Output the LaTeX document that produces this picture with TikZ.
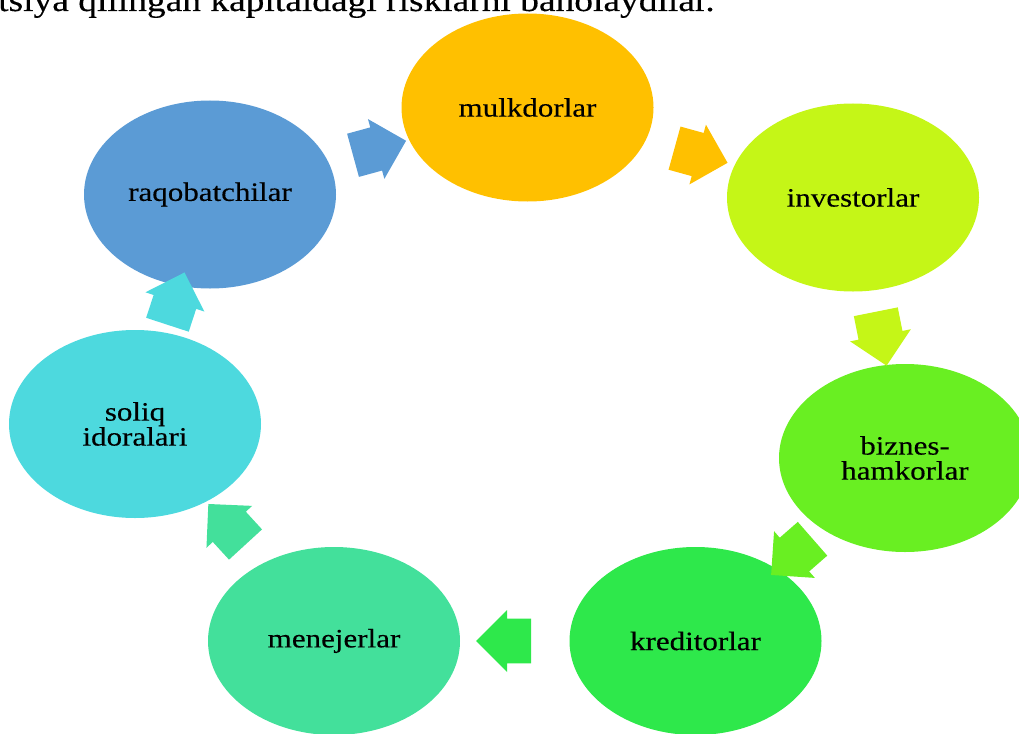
\documentclass[tikz,border=0pt]{standalone}
\usepackage{fontspec}
\setmainfont{Liberation Serif}[FakeStretch=1.17, FakeBold=0.3]
\usetikzlibrary{shapes.geometric,shapes.arrows}

\begin{document}
\begin{tikzpicture}[x=1pt, y=-1pt,
  ring/.style={ellipse, fill=#1, minimum width=252pt, minimum height=188pt,
    inner sep=0pt, align=center, font=\fontsize{26.5}{25}\selectfont},
  turn/.style={single arrow, fill=#1, sloped, allow upside down, midway,
    minimum height=55pt, minimum width=62pt, inner xsep=0pt, inner ysep=18pt,
    single arrow head extend=7pt}]
\useasboundingbox (0,0) rectangle (1019,733);
\clip (0,0) rectangle (1019,733);
\definecolor{colRaq}{HTML}{5B9BD5}
\definecolor{colMulk}{HTML}{FFC000}
\definecolor{colInv}{HTML}{C5F617}
\definecolor{colBiz}{HTML}{69EF22}
\definecolor{colKred}{HTML}{2EE84B}
\definecolor{colMene}{HTML}{43E09B}
\definecolor{colSoliq}{HTML}{4DD9DE}
% line of text cut by the top edge
\node[anchor=base west, inner sep=0pt, font=\fontsize{32}{36}\selectfont] (intro) at (-2,11)
  {tsiya qilingan kapitaldagi risklarni baholaydilar.};
% the cycle
\node[ring=colMulk] (mulk) at (527.5,107.5) {mulkdorlar};
\node[ring=colInv] (inv) at (853,197.5) {investorlar};
\node[ring=colBiz] (biz) at (905,458) {biznes-\\hamkorlar};
\node[ring=colKred] (kred) at (695.5,641) {kreditorlar};
\node[ring=colMene] (mene) at (334,641) {menejerlar};
\node[ring=colSoliq] (soliq) at (135,424) {soliq\\idoralari};
\node[ring=colRaq] (raq) at (210,194.5) {raqobatchilar};
% arrows between them
\path (raq.center) -- (mulk.center) node[turn=colRaq] (a1) {};
\path (mulk.center) -- (inv.center) node[turn=colMulk] (a2) {};
\path (inv.center) -- (biz.center) node[turn=colInv] (a3) {};
\path (biz.center) -- (kred.center) node[turn=colBiz] (a4) {};
\path (kred.center) -- (mene.center) node[turn=colKred] (a5) {};
\path (mene.center) -- (soliq.center) node[turn=colMene] (a6) {};
\path (soliq.center) -- (raq.center) node[turn=colSoliq] (a7) {};
\end{tikzpicture}
\end{document}
